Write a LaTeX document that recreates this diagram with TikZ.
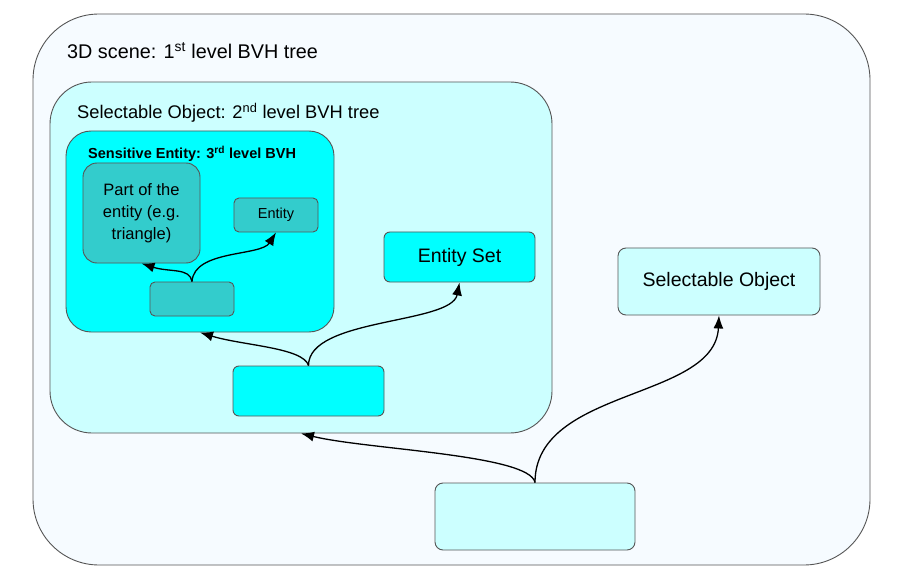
\documentclass[tikz,border=0pt]{standalone}
\usepackage{fontspec}
\setmainfont{Liberation Sans}
\usetikzlibrary{arrows.meta}
\definecolor{outerfill}{HTML}{F6FBFF}
\definecolor{palecyan}{HTML}{CCFFFF}
\definecolor{cyanfill}{HTML}{00FFFF}
\definecolor{tealfill}{HTML}{33CCCC}
\definecolor{edgegray}{HTML}{555555}
\tikzset{
  box/.style={draw=edgegray, line width=0.9pt, rectangle, inner sep=0pt},
  lbl/.style={inner sep=0pt, anchor=base west},
  conn/.style={line width=1.3pt, -{Latex[length=13pt,width=10pt]}},
}
\begin{document}
\begin{tikzpicture}[x=1pt,y=-1pt]
\useasboundingbox (0,0) rectangle (904,585);
% containers
\node[box, fill=outerfill, rounded corners=66pt, minimum width=837pt, minimum height=551pt] (outer) at (451.5,289.5) {};
\node[lbl, font=\fontsize{19.8}{22}\selectfont] (outerlbl) at (67,59) {3D scene: 1\textsuperscript{st} level BVH tree};
\node[box, fill=palecyan, rounded corners=42pt, minimum width=502pt, minimum height=351pt] (sel2) at (301,257.5) {};
\node[lbl, font=\fontsize{18.3}{21}\selectfont] (sel2lbl) at (77,118.5) {Selectable Object: 2\textsuperscript{nd} level BVH tree};
\node[box, fill=cyanfill, rounded corners=25pt, minimum width=268pt, minimum height=201pt] (sens) at (200,231.5) {};
\node[lbl, font=\bfseries\fontsize{14.5}{17}\selectfont] (senslbl) at (88,159) {Sensitive Entity: 3\textsuperscript{rd} level BVH};
% inner boxes
\node[box, fill=tealfill, rounded corners=14pt, minimum width=117pt, minimum height=100pt, align=center, font=\fontsize{16.5}{22}\selectfont] (part) at (141.5,213) {Part of the\\entity (e.g.\\triangle)};
\node[box, fill=tealfill, rounded corners=5pt, minimum width=84pt, minimum height=34pt, font=\fontsize{14.5}{17}\selectfont] (ent) at (276,215) {Entity};
\node[box, fill=tealfill, rounded corners=5pt, minimum width=84pt, minimum height=34pt] (small) at (192,299) {};
\node[box, fill=cyanfill, rounded corners=6pt, minimum width=151pt, minimum height=50pt, font=\fontsize{19.5}{22}\selectfont] (eset) at (459.5,257) {Entity Set};
\node[box, fill=cyanfill, rounded corners=6pt, minimum width=151pt, minimum height=50pt] (mid) at (308.5,391) {};
\node[box, fill=palecyan, rounded corners=8pt, minimum width=202pt, minimum height=67pt, font=\fontsize{19.5}{22}\selectfont] (selR) at (719,281.5) {Selectable Object};
\node[box, fill=palecyan, rounded corners=8pt, minimum width=200pt, minimum height=67pt] (bot) at (535,516.5) {};
% connectors
\draw[conn] (small.north) .. controls +(-2,-14) and +(28,9) .. (part.south);
\draw[conn] (small.north) .. controls +(2,-32) and +(-15,24) .. (ent.south);
\draw[conn] (mid.north) .. controls +(-5,-18) and +(42,13) .. (sens.south);
\draw[conn] (mid.north) .. controls +(0,-48) and +(-8,42) .. (eset.south);
\draw[conn] (bot.north) .. controls +(-5,-28) and +(65,16) .. (sel2.south);
\draw[conn] (bot.north) .. controls +(0,-95) and +(-4,85) .. (selR.south);
\end{tikzpicture}
\end{document}
